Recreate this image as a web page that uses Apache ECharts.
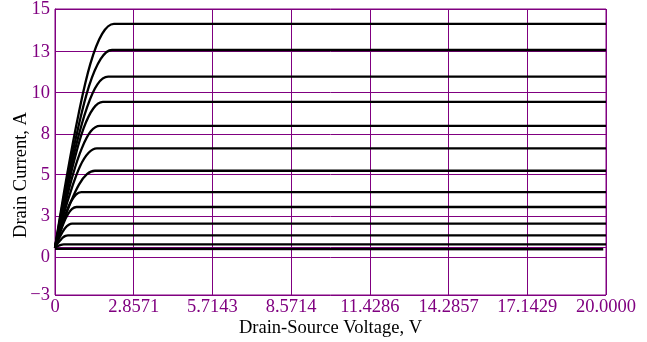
<!DOCTYPE html>
<html>
<head>
<meta charset="utf-8">
<script src="https://cdn.jsdelivr.net/npm/echarts@6/dist/echarts.min.js"></script>
<style>html,body{margin:0;padding:0;background:#fff}#c{width:647px;height:342px}</style>
</head>
<body>
<div id="c"></div>
<script>
const xTickValues = [0, 2.8571, 5.7143, 8.5714, 11.4286, 14.2857, 17.1429, 20];
const xTickLabels = ['0', '2.8571', '5.7143', '8.5714', '11.4286', '14.2857', '17.1429', '20.0000'];
const yTickValues = [-3, -0.63, 1.97, 4.57, 7.13, 9.73, 12.31, 15];
const yTickLabels = ['\u22123', '0', '3', '5', '8', '10', '13', '15'];

const c1 = [[0,-0.02],[0.43,4.49],[0.86,8.43],[1.28,11.53],[1.71,13.43],[2.14,14.06],[20,14.06]];
const c2 = [[0,-0.02],[0.41,3.96],[0.83,7.44],[1.24,10.18],[1.66,11.86],[2.07,12.42],[20,12.42]];
const c3 = [[0,-0.02],[0.39,3.42],[0.77,6.44],[1.16,8.80],[1.54,10.26],[1.93,10.74],[20,10.74]];
const c4 = [[0,-0.02],[0.35,2.91],[0.70,5.48],[1.04,7.50],[1.39,8.74],[1.74,9.15],[20,9.15]];
const c5 = [[0,-0.02],[0.33,2.43],[0.65,4.58],[0.98,6.26],[1.30,7.30],[1.63,7.64],[20,7.64]];
const c6 = [[0,-0.02],[0.30,1.98],[0.61,3.73],[0.91,5.11],[1.22,5.95],[1.52,6.23],[20,6.23]];
const c7 = [[0,-0.02],[0.29,1.53],[0.58,2.88],[0.87,3.95],[1.16,4.60],[1.45,4.82],[20,4.82]];
const c8 = [[0,-0.02],[0.19,1.10],[0.38,2.08],[0.57,2.85],[0.76,3.32],[0.95,3.48],[20,3.48]];
const c9 = [[0,-0.02],[0.16,0.80],[0.31,1.52],[0.47,2.08],[0.62,2.42],[0.78,2.54],[20,2.54]];
const c10 = [[0,-0.02],[0.12,0.46],[0.25,0.89],[0.37,1.22],[0.50,1.42],[0.62,1.49],[20,1.49]];
const c11 = [[0,-0.02],[0.09,0.23],[0.19,0.44],[0.28,0.61],[0.38,0.72],[0.47,0.75],[20,0.75]];
const c12 = [[0,-0.02],[0.06,0.04],[0.13,0.10],[0.19,0.14],[0.26,0.17],[0.32,0.18],[20,0.18]];
const c13 = [[0,-0.10],[19.9,-0.12]];
const curves = [c1,c2,c3,c4,c5,c6,c7,c8,c9,c10,c11,c12,c13];

const PURPLE = '#800080';
const FONT = '"Liberation Serif", "Times New Roman", serif';

const chart = echarts.init(document.getElementById('c'), null, {renderer: 'canvas'});
chart.setOption({
  animation: false,
  grid: {left: 55, right: 41, top: 9, bottom: 47, outerBoundsMode: 'none', containLabel: false,
    show: true, borderColor: PURPLE, borderWidth: 1, backgroundColor: 'transparent'},
  xAxis: {
    type: 'value', min: 0, max: 20,
    name: 'Drain-Source Voltage, V', nameLocation: 'middle', nameGap: 24, nameMoveOverlap: false,
    nameTextStyle: {fontFamily: FONT, fontSize: 18.5, color: '#000'},
    axisLine: {show: true, lineStyle: {color: PURPLE, width: 1}},
    axisTick: {show: false, customValues: xTickValues},
    axisLabel: {customValues: xTickValues, margin: 3, fontFamily: FONT, fontSize: 18.5, color: PURPLE,
      formatter: v => { const i = xTickValues.indexOf(v); return i >= 0 ? xTickLabels[i] : ''; }},
    splitLine: {show: true, lineStyle: {color: PURPLE, width: 1}}
  },
  yAxis: {
    type: 'value', min: -3, max: 15,
    name: 'Drain Current, A', nameLocation: 'middle', nameGap: 24, nameMoveOverlap: false,
    nameTextStyle: {fontFamily: FONT, fontSize: 18.5, color: '#000', padding: [0, 46, 0, 0]},
    axisLine: {show: true, lineStyle: {color: PURPLE, width: 1}},
    axisTick: {show: false, customValues: yTickValues},
    axisLabel: {customValues: yTickValues, margin: 5, fontFamily: FONT, fontSize: 18.5, color: PURPLE,
      formatter: v => { const i = yTickValues.indexOf(v); return i >= 0 ? yTickLabels[i] : ''; }},
    splitLine: {show: true, lineStyle: {color: PURPLE, width: 1}}
  },
  series: curves.map(d => ({
    type: 'line', data: d, smooth: 0.35, showSymbol: false, symbol: 'none',
    lineStyle: {color: '#000', width: 2.3}, z: 3
  }))
});
</script>
</body>
</html>
